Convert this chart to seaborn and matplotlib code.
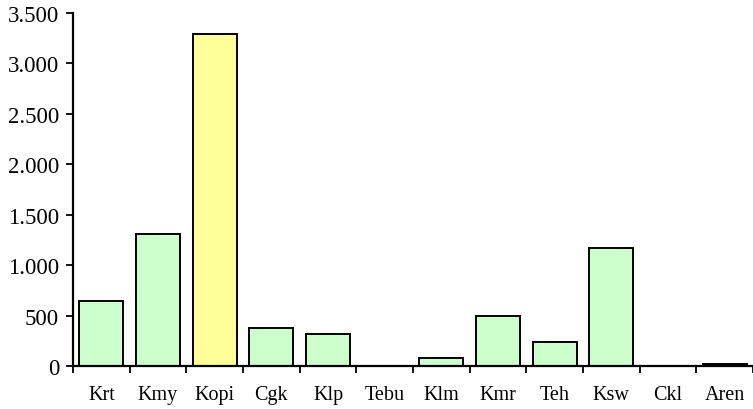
import matplotlib
matplotlib.use("Agg")
import matplotlib.pyplot as plt
import matplotlib.ticker as mticker
import seaborn as sns
import pandas as pd
import numpy as np

# Data
crops = ['Krt', 'Kmy', 'Kopi', 'Cgk', 'Klp', 'Tebu', 'Klm', 'Kmr', 'Teh', 'Ksw', 'Ckl', 'Aren']
values = [640, 1310, 3290, 377, 318, 0, 80, 497, 238, 1170, 0, 20]
highlight = 'Kopi'

df = pd.DataFrame({'crop': crops, 'value': values})
palette = {c: ('#FFFF99' if c == highlight else '#CCFFCC') for c in crops}

sns.set_style('ticks', {'axes.edgecolor': 'black', 'text.color': 'black',
                        'xtick.color': 'black', 'ytick.color': 'black'})
plt.rcParams['font.family'] = ['Liberation Serif', 'DejaVu Serif']

fig = plt.figure(figsize=(7.53, 4.10), dpi=100)
ax = fig.add_axes([0.097, 0.105, 0.903, 0.861])

sns.barplot(data=df, x='crop', y='value', hue='crop', palette=palette, legend=False,
            width=0.78, edgecolor='black', linewidth=1.4, saturation=1, ax=ax)

ax.set_xlim(-0.5, len(crops) - 0.5)
ax.set_ylim(0, 3500)
ax.set_yticks(np.arange(0, 3501, 500))
ax.yaxis.set_major_formatter(mticker.FuncFormatter(lambda v, p: f"{v:,.0f}".replace(',', '.')))

# tick marks sit between categories, labels in the middle
ax.set_xticks(np.arange(len(crops)))
ax.set_xticklabels(crops, fontsize=14.5)
ax.set_xticks(np.arange(len(crops) + 1) - 0.5, minor=True)
ax.tick_params(axis='x', which='major', length=0, pad=14, labelcolor='black')
ax.tick_params(axis='x', which='minor', length=5, width=1.3, direction='out', color='black')
ax.tick_params(axis='y', labelsize=16.5, length=5, width=1.3, pad=5, labelcolor='black', color='black')

for side in ['top', 'right']:
    ax.spines[side].set_visible(False)
for side in ['left', 'bottom']:
    ax.spines[side].set_linewidth(1.6)
    ax.spines[side].set_color('black')

ax.set_xlabel('')
ax.set_ylabel('')

fig.savefig('out.png', dpi=100)
